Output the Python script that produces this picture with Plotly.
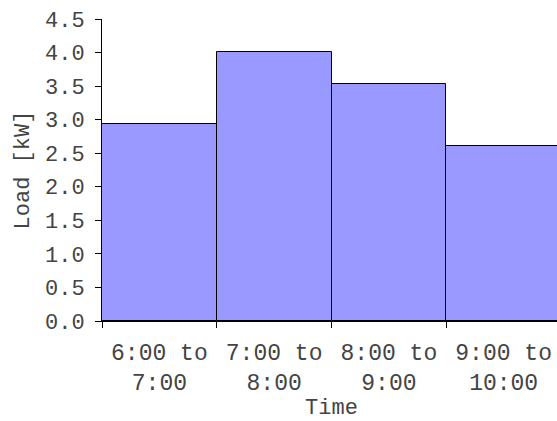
import plotly.graph_objects as go

categories = ["6:00 to<br>7:00", "7:00 to<br>8:00", "8:00 to<br>9:00", "9:00 to<br>10:00"]
load_kw = [2.94, 4.01, 3.53, 2.61]
y_ticks = [0.0, 0.5, 1.0, 1.5, 2.0, 2.5, 3.0, 3.5, 4.0, 4.5]

family = "Liberation Mono, Courier New, monospace"
font = dict(family=family, size=22, color="#444444")
xfont = dict(family=family, size=23, color="#444444")

fig = go.Figure(go.Bar(
    x=categories, y=load_kw,
    marker=dict(color="#9999FF", line=dict(color="black", width=1)),
))
fig.update_layout(
    width=561, height=421,
    margin=dict(l=102, r=0, t=19, b=100),
    paper_bgcolor="white", plot_bgcolor="white",
    bargap=0, font=font, showlegend=False,
)
fig.update_xaxes(
    automargin=False,
    title=dict(text="Time", font=font, standoff=0),
    tickfont=xfont,
    tickson="boundaries", ticks="outside", ticklen=6, tickcolor="black",
    ticklabelstandoff=10,
    showline=True, linecolor="black", linewidth=1, showgrid=False,
)
fig.update_yaxes(
    automargin=False,
    title=dict(text="Load [kW]", font=font, standoff=9),
    range=[0, 4.5], tickvals=y_ticks, ticktext=[f"{v:.1f}" for v in y_ticks],
    ticks="outside", ticklen=6, tickcolor="black",
    ticklabelstandoff=6,
    showline=True, linecolor="black", linewidth=1, showgrid=False, zeroline=False,
)
fig.write_html(
    "out.html",
    config={"displayModeBar": False},
    post_script="document.body.style.margin='0';document.documentElement.style.margin='0';"
                "document.body.style.overflow='hidden';document.documentElement.style.overflow='hidden';",
)
